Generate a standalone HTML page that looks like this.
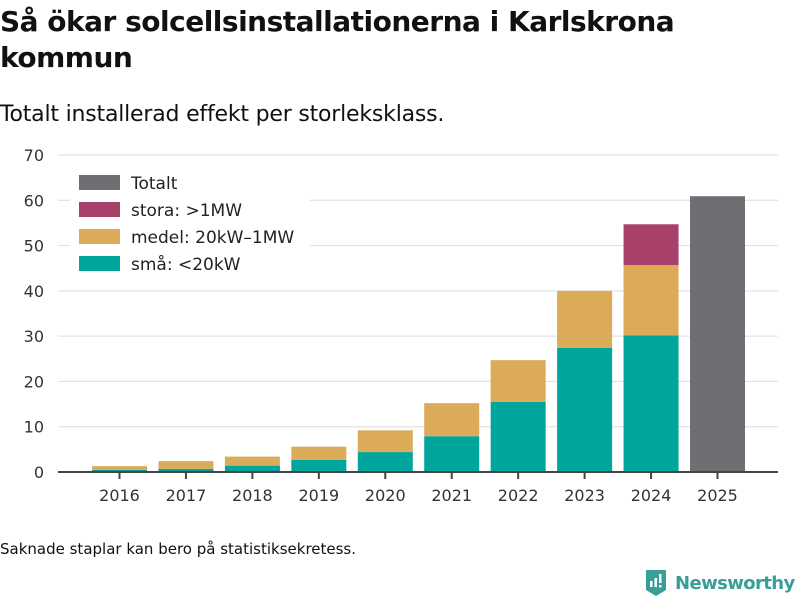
<!DOCTYPE html>
<html><head><meta charset="utf-8">
<style>
body{margin:0;width:800px;height:600px;background:#fff;font-family:"Liberation Sans","DejaVu Sans",sans-serif;color:#111;position:relative;overflow:hidden}
h1{position:absolute;left:0;top:4px;margin:0;font-size:28px;line-height:36px;font-weight:bold;font-family:"DejaVu Sans","Liberation Sans",sans-serif;letter-spacing:-0.5px;width:790px}
.sub{position:absolute;left:0;top:102px;font-size:22px;font-family:"DejaVu Sans","Liberation Sans",sans-serif;letter-spacing:-0.2px}
.note{position:absolute;left:0;top:540px;font-size:15px;font-family:"DejaVu Sans",sans-serif;letter-spacing:0px}
.logo{position:absolute;left:644px;top:568px;display:flex;align-items:center;gap:7px;color:#3a9e98;font-size:18px;font-weight:bold;font-family:"DejaVu Sans",sans-serif;letter-spacing:-0.6px}
svg text{font-family:"DejaVu Sans","Liberation Sans",sans-serif}
</style></head><body>
<h1>Så ökar solcellsinstallationerna i Karlskrona kommun</h1>
<div class="sub">Totalt installerad effekt per storleksklass.</div>
<svg id="chart" width="800" height="600" style="position:absolute;left:0;top:0"></svg>
<div class="note">Saknade staplar kan bero på statistiksekretess.</div>
<div class="logo"><svg width="24" height="30" viewBox="0 0 24 30"><path d="M2 2h20v20l-10 6-10-6z" fill="#3a9e98"/><rect x="6" y="13" width="2.5" height="6" fill="#fff"/><rect x="10.5" y="10" width="2.5" height="9" fill="#fff"/><rect x="15" y="6" width="2.5" height="9" fill="#fff"/><rect x="15" y="17" width="2.5" height="2.5" fill="#fff"/></svg><span>Newsworthy</span></div>
<script>
const years=["2016","2017","2018","2019","2020","2021","2022","2023","2024","2025"];
const small=[0.45,0.7,1.4,2.7,4.4,7.9,15.5,27.4,30.2,null];
const medium=[0.85,1.7,2.0,2.9,4.8,7.3,9.2,12.6,15.5,null];
const large=[null,null,null,null,null,null,null,null,9.0,null];
const total=[null,null,null,null,null,null,null,null,null,60.9];
const yTicks=[0,10,20,30,40,50,60,70];
const NS="http://www.w3.org/2000/svg";
const svg=document.getElementById('chart');
const x0=58,x1=778,yb=472,yt=155,ymax=70;
const y=v=>yb-(v/ymax)*(yb-yt);
const xc=i=>119.5+i*(717.5-119.5)/(years.length-1);
const bw=55;
function mk(t,a){const e=document.createElementNS(NS,t);for(const k in a)e.setAttribute(k,a[k]);svg.appendChild(e);return e;}
yTicks.forEach(v=>{
 if(v>0){const g=mk('line',{x1:58,x2:778,y1:y(v),y2:y(v),stroke:'#ddd','stroke-width':1});
 
 }
 const t=mk('text',{x:44,y:y(v)+6,'text-anchor':'end','font-size':16,fill:'#333'});t.textContent=v;
 
 
});
function bar(i,a,b,c,n){const r=mk('rect',{x:xc(i)-bw/2,y:y(b),width:bw,height:y(a)-y(b),fill:c});
 
 }
years.forEach((yr,i)=>{
 let base=0;
 if(small[i]!=null){bar(i,base,base+small[i],'#00a59b','bar-small-'+yr);base+=small[i];}
 if(medium[i]!=null){bar(i,base,base+medium[i],'#dcab5a','bar-medium-'+yr);base+=medium[i];}
 if(large[i]!=null){bar(i,base,base+large[i],'#a8416a','bar-large-'+yr);base+=large[i];}
 if(total[i]!=null){bar(i,0,total[i],'#6f6e73','bar-total-'+yr);}
 const tk=mk('line',{x1:xc(i),x2:xc(i),y1:yb,y2:yb+7,stroke:'#444','stroke-width':2});
 
 
 const t=mk('text',{x:xc(i),y:yb+29,'text-anchor':'middle','font-size':16,fill:'#333'});t.textContent=yr;
 
 
});
const ax=mk('line',{x1:58,x2:778,y1:yb,y2:yb,stroke:'#444','stroke-width':2});


const lg=[["Totalt","#6f6e73"],["stora: >1MW","#a8416a"],["medel: 20kW–1MW","#dcab5a"],["små: <20kW","#00a59b"]];
const bg=mk('rect',{x:70,y:166,width:240,height:118,fill:'#fff'});


lg.forEach((l,k)=>{
 const yy=175+k*27;
 const s=mk('rect',{x:79,y:yy,width:41,height:15,fill:l[1]});
 
 
 const t=mk('text',{x:131,y:yy+14,'font-size':17,fill:'#222'});t.textContent=l[0];
 
 
});
</script>
</body></html>
